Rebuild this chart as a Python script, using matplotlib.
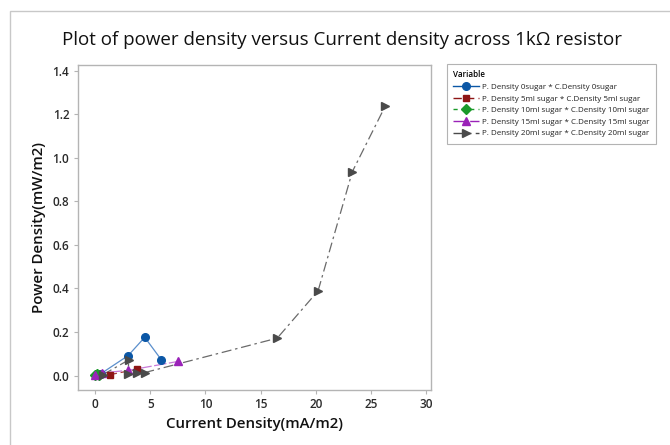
import matplotlib
matplotlib.use("Agg")
import matplotlib.pyplot as plt
from matplotlib.patches import Rectangle
from matplotlib.lines import Line2D

plt.rcParams['font.family'] = ['Open Sans', 'DejaVu Sans']

# Data
blue_x = [0.05, 0.5, 3.0, 4.5, 6.0]
blue_y = [0.002, 0.008, 0.092, 0.176, 0.073]
red_x = [0.3, 1.4, 3.8]
red_y = [0.001, 0.005, 0.029]
green_x = [0.0, 0.2, 0.4]
green_y = [0.004, 0.007, 0.004]
purple_x = [0.0, 0.66, 3.0, 7.5]
purple_y = [0.002, 0.013, 0.024, 0.065]
gray_x = [0.7, 3.05, 3.0, 3.8, 4.5, 16.5, 20.2, 23.3, 26.3]
gray_y = [0.004, 0.072, 0.008, 0.011, 0.014, 0.172, 0.389, 0.936, 1.239]

labels = [
    "P. Density 0sugar * C.Density 0sugar",
    "P. Density 5ml sugar * C.Density 5ml sugar",
    "P. Density 10ml sugar * C.Density 10ml sugar",
    "P. Density 15ml sugar * C.Density 15ml sugar",
    "P. Density 20ml sugar * C.Density 20ml sugar",
]
x_ticks = [0, 5, 10, 15, 20, 25, 30]
y_ticks = [0.0, 0.2, 0.4, 0.6, 0.8, 1.0, 1.2, 1.4]

W, H = 670, 445
fig = plt.figure(figsize=(W / 100, H / 100), dpi=100)
fig.patch.set_facecolor('white')

# outer frame
fig.patches.append(Rectangle((10 / W, -0.1), 1.2, 1 - 11 / H + 0.1,
                             transform=fig.transFigure, fill=False,
                             edgecolor='#c8c8c8', linewidth=1.0))

ax = fig.add_axes([77.7 / W, 1 - 390 / H, (430.7 - 77.7) / W, (390 - 65) / H])

series = [
    (blue_x, blue_y, '#0b57a6', '#5b8fcc', 'o', '-', 5.5),
    (red_x, red_y, '#8e1515', '#a83a3a', 's', (0, (6, 3)), 5.0),
    (green_x, green_y, '#1a9a2a', '#3aaa4a', 'D', (0, (3, 3)), 5.0),
    (purple_x, purple_y, '#9a22b8', '#c77ad8', '^', (0, (10, 2)), 6.0),
    (gray_x, gray_y, '#4a4a4a', '#6a6a6a', '>', (0, (8, 3, 2, 3)), 6.0),
]
handles = []
for (xs, ys, mc, lc, mk, ls, ms), lab in zip(series, labels):
    ax.plot(xs, ys, color=lc, linestyle=ls, linewidth=0.9, zorder=2)
    ax.plot(xs, ys, linestyle='none', marker=mk, markersize=ms,
            markerfacecolor=mc, markeredgecolor=mc, zorder=3)
    handles.append(Line2D([], [], color=mc, linestyle=ls, linewidth=1.0,
                          marker=mk, markersize=ms, markerfacecolor=mc,
                          markeredgecolor=mc))

ax.set_xlim(-1.57, 30.4)
ax.set_ylim(-0.066, 1.426)
ax.set_xticks(x_ticks)
ax.set_yticks(y_ticks)
ax.set_xticklabels([str(t) for t in x_ticks])
ax.set_yticklabels([f"{t:.1f}" for t in y_ticks])
for s in ax.spines.values():
    s.set_visible(True)
    s.set_color('#b4b4b4')
    s.set_linewidth(1.0)
ax.tick_params(axis='both', direction='out', length=3, width=0.8,
               color='#b4b4b4', labelsize=8.5, labelcolor='#2a2a2a', pad=3)
for lbl in ax.get_xticklabels() + ax.get_yticklabels():
    lbl.set_fontweight('semibold')

ax.set_xlabel("Current Density(mA/m2)", fontsize=10.8, fontweight='semibold',
              color='#111111', labelpad=4)
ax.set_ylabel("Power Density(mW/m2)", fontsize=10.8, fontweight='semibold',
              color='#111111', labelpad=5)

fig.text(342.5 / W, 1 - 45 / H,
         "Plot of power density versus Current density across 1k\u03a9 resistor",
         ha='center', va='baseline', fontsize=13.5, color='#111111')

leg = fig.legend(handles, labels, title="Variable", loc='upper left',
                 bbox_to_anchor=(447 / W, 1 - 64 / H), fontsize=5.75,
                 title_fontsize=5.75, alignment='left', frameon=True,
                 fancybox=False, edgecolor='#a0a0a0', borderpad=0.8,
                 handlelength=3.2, handletextpad=0.4, labelspacing=0.5,
                 borderaxespad=0)
leg.get_frame().set_linewidth(0.8)
leg.get_title().set_fontweight('semibold')
for t in leg.get_texts():
    t.set_color('#222222')

fig.savefig("out.png", dpi=100)
